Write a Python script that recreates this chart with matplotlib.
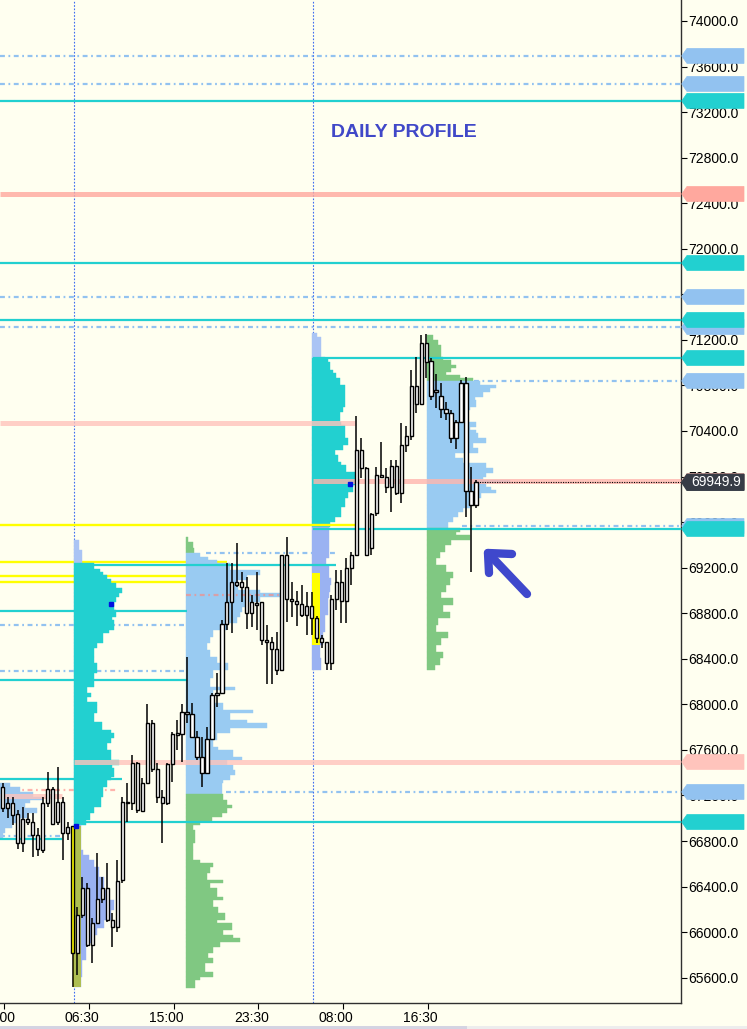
import numpy as np
import matplotlib
matplotlib.use("Agg")
import matplotlib.pyplot as plt
from matplotlib import transforms
from matplotlib.patches import Polygon, Rectangle
from matplotlib.ticker import FormatStrFormatter

plt.rcParams["font.family"] = ["Liberation Sans", "DejaVu Sans"]

BG = "#FFFFF0"
TEAL = "#22D0D0"
SKY = "#99CBF2"
GREEN = "#80C882"
LAV_UP = "#AAC4F4"
LAV_DN = "#9AB2F2"
LB = "#92C2F0"
SALMON = "#FFA89E"
PINK = "#FFC4BC"
YELLOW = "#FFFF00"

# hours are counted from the 05:00 session start of the first full day
XMIN, XMAX = -7.43, 60.94
YMIN, YMAX = 65378, 74184
PX_PER_HOUR = 9.96
PRICE_PER_PX = 8.777

tick_hours = [-7, 1.5, 10, 18.5, 27, 35.5]
tick_labels = ["22:00", "06:30", "15:00", "23:30", "08:00", "16:30"]
session_starts = [0, 24]

# ---- 30 minute candles ----
first_bar = -7.15
bar_step = 0.5
body_hi = [67277, 67131, 67131, 67037, 66991, 66991, 66970, 66853, 67131, 67254,
           67254, 67146, 67146, 66926, 66932, 66151, 66385, 66385, 66083, 66288,
           66385, 66385, 66107, 66449, 67146, 67146, 67488, 67488, 67313, 67834,
           67834, 67430, 67190, 67474, 67737, 67745, 67936, 67936, 67913, 67716,
           67535, 67693, 68082, 68098, 68703, 68902, 69077, 69077, 69077, 69028,
           68902, 68888, 68902, 68565, 68545, 68483, 69312, 69312, 68922, 68908,
           68878, 68864, 68864, 68761, 68580, 68545, 68922, 69077, 69077, 69200,
           69311, 70233, 70233, 70072, 69671, 70014, 70014, 69994, 70092, 70092,
           70277, 70356, 70795, 70795, 71175, 71175, 71015, 70760, 70710, 70593,
           70555, 70476, 70819, 70819, 69873, 69949.9]
body_lo = [67087, 67087, 67029, 66786, 66786, 66970, 66853, 66727, 66721, 67131,
           66950, 66970, 66868, 66868, 65820, 65820, 66151, 65887, 65887, 66083,
           66288, 66107, 66042, 66042, 66458, 67131, 67131, 67073, 67067, 67313,
           67430, 67190, 67131, 67131, 67474, 67730, 67737, 67913, 67716, 67535,
           67394, 67394, 67693, 68082, 68098, 68703, 68902, 69048, 69028, 68800,
           68800, 68873, 68565, 68545, 68483, 68302, 68302, 68922, 68908, 68878,
           68785, 68785, 68762, 68580, 68545, 68360, 68360, 68922, 68907, 68907,
           69200, 69311, 70072, 69311, 69372, 69682, 69994, 69906, 69906, 69853,
           69853, 70277, 70356, 70634, 70634, 71009, 70710, 70745, 70593, 70555,
           70336, 70336, 70476, 69873, 69750, 69750]
high = [67307, 67190, 67190, 67073, 67102, 67043, 67043, 66912, 67190, 67409,
        67277, 67453, 67190, 66970, 66932, 66224, 66487, 66429, 66122, 66692,
        66487, 66604, 66165, 66634, 67190, 67307, 67556, 67497, 67351, 68000,
        67863, 67482, 67248, 67482, 67760, 67863, 68000, 68419, 68015, 67769,
        67716, 67798, 68098, 68279, 68741, 69239, 69239, 69420, 69165, 69121,
        68960, 69165, 68902, 68697, 68595, 68639, 69312, 69467, 69077, 68996,
        69048, 68990, 68990, 68779, 68609, 68545, 68960, 69180, 69180, 69282,
        69340, 70530, 70339, 70080, 69680, 70087, 70306, 70072, 70145, 70145,
        70473, 70444, 70936, 71053, 71243, 71252, 71038, 70900, 70819, 70652,
        70584, 70497, 70848, 70877, 70087, 69970]
low = [67058, 66999, 66941, 66727, 66707, 66941, 66663, 66669, 66698, 67102,
       66941, 66941, 66634, 66809, 65521, 65624, 66122, 65873, 65726, 66078,
       66253, 66092, 65873, 66004, 66429, 66970, 67073, 67043, 67058, 67307,
       67409, 67131, 66786, 67116, 67321, 67600, 67497, 67834, 67716, 67511,
       67277, 67394, 67687, 67980, 68091, 68653, 68624, 69034, 68902, 68659,
       68682, 68653, 68521, 68176, 68176, 68258, 68296, 68726, 68770, 68688,
       68770, 68609, 68609, 68536, 68492, 68302, 68302, 68829, 68712, 68712,
       69048, 69300, 69988, 69300, 69311, 69650, 69985, 69853, 69691, 69838,
       69765, 70219, 70321, 70556, 70628, 70863, 70672, 70600, 70511, 70497,
       70292, 70242, 70467, 69647, 69165, 69726]
last_price = 69949.9
yellow_bar = 14

# ---- volume profiles: price bin edges (top to bottom) and bar lengths ----
profZ_start = XMIN
profZ_edges = [67310, 67274, 67230, 67187, 67160, 67134, 67090, 67046, 67002, 66958, 66915, 66871, 66827]
profZ_vol = [10, 20, 33, 43, 30, 25, 37, 27, 20, 12, 5, 3]

profA_start = 0.0
profA_va = (69238, 66941)
profA_edges = [69443, 69355, 69238, 69186, 69165, 69136, 69098, 69063, 69019, 68975,
               68946, 68902, 68829, 68770, 68741, 68653, 68624, 68536, 68492, 68419,
               68360, 68272, 68155, 68097, 68068, 68024, 67994, 67921, 67848, 67775,
               67746, 67702, 67658, 67599, 67511, 67468, 67438, 67365, 67336, 67277,
               67189, 67102, 67043, 66985, 66941, 66721, 66677, 66633, 66575, 66487,
               66370, 66282, 66194, 66107, 66033, 65975, 65902, 65755, 65609, 65521]
profA_vol = [5, 8, 20, 26, 29, 33, 37, 42, 48, 45, 42, 40, 42, 38, 40, 35, 29, 23, 20, 20,
             23, 20, 13, 17, 13, 23, 23, 20, 28, 37, 40, 37, 33, 37, 45, 38, 40, 37, 33, 29,
             27, 20, 16, 12, 7, 9, 15, 20, 25, 30, 35, 40, 37, 30, 23, 17, 12, 8, 7]

profB_start = 11.25
profB_va = (69326, 67213)
profB_edges = [69472, 69429, 69370, 69326, 69297, 69268, 69238, 69180, 69136, 69092,
               69048, 69004, 68975, 68946, 68902, 68858, 68814, 68770, 68711, 68653,
               68594, 68536, 68477, 68419, 68360, 68302, 68229, 68155, 68126, 68068,
               68009, 67950, 67927, 67863, 67833, 67789, 67746, 67687, 67629, 67599,
               67541, 67511, 67468, 67424, 67380, 67336, 67307, 67213, 67160, 67116,
               67087, 67043, 67014, 66970, 66941, 66897, 66780, 66721, 66633, 66604,
               66575, 66516, 66458, 66428, 66385, 66311, 66282, 66224, 66165, 66107,
               66077, 66019, 65975, 65946, 65916, 65872, 65814, 65770, 65726, 65653,
               65609, 65580, 65506]
profB_vol = [2, 7, 8, 14, 22, 31, 44, 74, 61, 51, 52, 74, 94, 74, 61, 56, 54, 51, 41, 27,
             24, 21, 24, 31, 42, 27, 24, 49, 27, 24, 37, 67, 44, 61, 81, 44, 31, 27, 32, 47,
             56, 41, 47, 49, 44, 37, 36, 37, 41, 46, 41, 36, 26, 14, 7, 9, 7, 7, 14, 27,
             24, 21, 37, 24, 31, 37, 27, 32, 39, 31, 46, 37, 47, 54, 34, 27, 22, 27, 19, 27,
             14, 9]

profC_start = 23.93
profC_va = (71038, 69560)
profC_edges = [71258, 71229, 71053, 71038, 71009, 70936, 70907, 70863, 70804, 70614,
               70570, 70482, 70453, 70336, 70277, 70233, 70190, 70131, 70102, 70043,
               69985, 69926, 69868, 69809, 69736, 69648, 69604, 69560, 69282, 69224,
               69107, 69048, 68990, 68931, 68785, 68638, 68521, 68404, 68302]
profC_vol = [5, 9, 13, 16, 18, 21, 24, 28, 33, 31, 28, 29, 33, 36, 31, 23, 26, 29, 34, 44,
             46, 41, 36, 33, 29, 23, 18, 17, 14, 17, 19, 18, 17, 16, 13, 11, 8, 9]

profD_start = 35.47
profD_va = (70839, 69546)
profD_edges = [71243, 71199, 71155, 71053, 71024, 70980, 70950, 70921, 70892, 70863,
               70839, 70804, 70775, 70746, 70702, 70672, 70614, 70585, 70482, 70438,
               70409, 70380, 70336, 70292, 70248, 70204, 70160, 70116, 70072, 70028,
               69999, 69970, 69941, 69911, 69882, 69853, 69809, 69750, 69721, 69692,
               69648, 69604, 69546, 69516, 69487, 69443, 69399, 69341, 69282, 69224,
               69165, 69107, 69048, 68990, 68931, 68872, 68814, 68755, 68697, 68638,
               68580, 68521, 68463, 68404, 68346, 68302]
profD_vol = [6, 11, 14, 16, 24, 29, 24, 19, 33, 46, 53, 69, 63, 56, 48, 49, 43, 39, 49, 43,
             49, 51, 59, 46, 51, 28, 36, 59, 66, 59, 56, 83, 59, 64, 69, 54, 49, 43, 36, 31,
             26, 21, 33, 29, 43, 24, 18, 13, 9, 19, 26, 23, 19, 14, 26, 16, 23, 11, 9, 21,
             14, 9, 16, 13, 8]

# opening range boxes (one per session)
ib_hi = [66932, 69155]
ib_lo = [65518, 68522]

poc_time = [0.2, 3.75, 27.7]
poc_price = [66928, 68880, 69938]

# ---- horizontal levels: price, start hour, end hour (None = chart edge) ----
cyan_price = [73298, 71875, 71375, 71041, 69540, 69224, 68823, 68214, 67345, 66967, 66818]
cyan_from = [None, None, None, 24.0, 24.0, 0.0, None, None, None, 0.0, None]
cyan_to = [None, None, None, None, None, 26.3, 11.35, 11.35, 4.8, None, -1.2]

dot_price = [73693, 73447, 71577, 71313, 70840, 69566, 69329, 68697, 68290, 67231, 66840]
dot_from = [None, None, None, None, 40.2, 39.0, 13.3, None, None, 15.3, None]
dot_to = [None, None, None, None, None, None, 26.5, 11.35, 11.35, None, -1.2]

pink_price = [72481, 70470, 69960, 67494, 67195]
pink_from = [None, None, 24.0, 0.0, None]
pink_to = [None, 28.2, None, None, -1.2]
pink_color = [SALMON, PINK, "#FFB6AE", PINK, PINK]

pinkdot_price = [68960, 67250]
pinkdot_from = [11.25, None]
pinkdot_to = [20.7, 4.4]

yellow_price = [69575, 69246, 69127, 69070]
yellow_to = [28.2, 15.4, 11.35, 11.35]

tag_price = [73693, 73447, 73298, 72481, 71875, 71577, 71313, 71375, 71041, 70840,
             69960, 69566, 69540, 67494, 67231, 66967]
tag_color = [LB, LB, TEAL, SALMON, TEAL, LB, LB, TEAL, TEAL, LB,
             "#FFB0A6", LB, TEAL, PINK, LB, TEAL]


def span(a, b):
    return (XMIN if a is None else a), (XMAX if b is None else b)


def draw_profile(ax, x0, edges, vol, va, c_in, c_up, c_dn):
    edges = np.asarray(edges, float)
    vol = np.asarray(vol, float)
    tops, bots = edges[:-1], edges[1:]
    mids = (tops + bots) / 2
    cols = np.where(mids > va[0], c_up, np.where(mids < va[1], c_dn, c_in))
    ax.barh(mids, vol / PX_PER_HOUR, height=tops - bots, left=x0, color=cols,
            edgecolor=cols, linewidth=0.3, align="center", zorder=2)


def main() -> None:
    fig = plt.figure(figsize=(7.47, 10.29), dpi=100, facecolor=BG)
    ax = fig.add_axes([0, 26 / 1029, 681 / 747, 1003 / 1029])
    ax.set_facecolor(BG)
    ax.set_xlim(XMIN, XMAX)
    ax.set_ylim(YMIN, YMAX)

    # dotted levels sit under the profiles
    for p, a, b in zip(dot_price, dot_from, dot_to):
        x0, x1 = span(a, b)
        ax.hlines(p, x0, x1, color=LB, lw=1.6, linestyles=[(0, (2.2, 1.6, 0.8, 1.6))], zorder=1)
    for p, a, b in zip(pinkdot_price[1:], pinkdot_from[1:], pinkdot_to[1:]):
        x0, x1 = span(a, b)
        ax.hlines(p, x0, x1, color="#FFB4AC", lw=1.6, linestyles=[(0, (2.2, 1.6, 0.8, 1.6))], zorder=1)
    for p, b in zip(yellow_price[1:], yellow_to[1:]):
        ax.hlines(p, XMIN, b, color=YELLOW, lw=1.7, zorder=1)

    for t in session_starts:
        ax.axvline(t, color="#3C6CF0", lw=0.8, linestyle=(0, (1.5, 1.5)), zorder=1.2)

    # profiles
    draw_profile(ax, profZ_start, profZ_edges, profZ_vol, (1e9, 0), "#9CC8F0", "#9CC8F0", "#9CC8F0")
    draw_profile(ax, profA_start, profA_edges, profA_vol, profA_va, TEAL, LAV_UP, LAV_DN)
    draw_profile(ax, profB_start, profB_edges, profB_vol, profB_va, SKY, GREEN, GREEN)
    draw_profile(ax, profC_start, profC_edges, profC_vol, profC_va, TEAL, LAV_UP, LAV_DN)
    draw_profile(ax, profD_start, profD_edges, profD_vol, profD_va, SKY, GREEN, GREEN)

    # opening range boxes
    for t, hi, lo, olive in zip(session_starts, ib_hi, ib_lo, [True, False]):
        ax.add_patch(Rectangle((t - 0.13, lo), 0.83, hi - lo, facecolor=YELLOW, edgecolor="none", zorder=3))
        if olive:
            ax.add_patch(Rectangle((t + 0.03, lo), 0.67, hi - lo, facecolor="#AEBE52", edgecolor="none", zorder=3.1))

    # solid levels over the profiles
    for p, a, b in zip(cyan_price, cyan_from, cyan_to):
        x0, x1 = span(a, b)
        ax.hlines(p, x0, x1, color=TEAL, lw=1.6, zorder=3.5)
    for p, a, b, c in zip(pink_price, pink_from, pink_to, pink_color):
        x0, x1 = span(a, b)
        ax.hlines(p, x0, x1, color=c, lw=3.6, alpha=0.8, zorder=3.6)
    ax.hlines(pinkdot_price[0], pinkdot_from[0], pinkdot_to[0], color="#D8A0A8",
              lw=1.6, linestyles=[(0, (2.2, 1.6, 0.8, 1.6))], zorder=3.6)
    ax.hlines(yellow_price[0], XMIN, yellow_to[0], color=YELLOW, lw=1.7, zorder=3.7)

    # candles
    n = len(high)
    t = first_bar + bar_step * np.arange(n)
    faces = ["white"] * n
    faces[yellow_bar] = YELLOW
    ax.vlines(t, low, high, color="black", lw=1.1, zorder=5)
    bh = np.asarray(body_hi) - np.asarray(body_lo)
    ax.bar(t, np.maximum(bh, 6), bottom=body_lo, width=0.32, color=faces,
           edgecolor="black", linewidth=1.0, zorder=5.5)

    ax.plot(poc_time, poc_price, "s", color="#0010E0", ms=3.2, zorder=6)

    # last price
    ax.hlines(last_price, t[-1] + 0.15, XMAX, color="black", lw=0.8,
              linestyles=[(0, (1, 1.2))], zorder=6)

    # axes cosmetics
    for s in ("top", "left"):
        ax.spines[s].set_visible(False)
    for s in ("right", "bottom"):
        ax.spines[s].set_color("#303030")
        ax.spines[s].set_linewidth(1.0)
    ax.yaxis.tick_right()
    ax.set_yticks(np.arange(65600, 74001, 400))
    ax.yaxis.set_major_formatter(FormatStrFormatter("%.1f"))
    ax.tick_params(axis="y", direction="out", length=4, width=0.8, pad=1, labelsize=10)
    ax.set_xticks(tick_hours)
    ax.set_xticklabels(tick_labels)
    ax.tick_params(axis="x", direction="out", length=4, width=0.8, pad=2, labelsize=10)
    shift = transforms.ScaledTranslation(-0.07, 0, fig.dpi_scale_trans)
    for lbl in ax.get_xticklabels():
        lbl.set_transform(lbl.get_transform() + shift)

    # price tags on the scale
    tf = transforms.blended_transform_factory(ax.transAxes, ax.transData)
    w = 681.0
    half = 7.5 * PRICE_PER_PX
    xs = [1 + 0.7 / w, 1 + 6 / w, 1 + 63 / w, 1 + 63 / w, 1 + 6 / w]
    for p, c in zip(tag_price, tag_color):
        ys = [p, p + half, p + half, p - half, p - half]
        ax.add_patch(Polygon(np.column_stack([xs, ys]), closed=True, transform=tf,
                             facecolor=c, edgecolor=c, lw=0.5, clip_on=False, zorder=10))
    h2 = 8 * PRICE_PER_PX
    ys = [last_price, last_price + h2, last_price + h2, last_price - h2, last_price - h2]
    ax.add_patch(Polygon(np.column_stack([xs, ys]), closed=True, transform=tf,
                         facecolor="#373C46", edgecolor="#373C46", clip_on=False, zorder=11))
    ax.text(1 + 35 / w, last_price, f"{last_price:.1f}", transform=tf, ha="center", va="center",
            color="white", fontsize=10, zorder=12, clip_on=False)

    ax.text(0.593, 0.868, "DAILY PROFILE", transform=ax.transAxes, ha="center", va="center",
            fontsize=14, fontweight="bold", color="#4048C8", zorder=7)

    # hand drawn arrow
    def ap(px, py):
        return px / w, 1 - py / 1003.0
    tail, tip, arm1, arm2 = ap(527, 594), ap(488, 553), ap(512, 554), ap(489, 573)
    kw = dict(transform=ax.transAxes, color="#3F48CC", lw=6, solid_capstyle="round",
              solid_joinstyle="round", zorder=8, clip_on=False)
    ax.plot([tail[0], tip[0]], [tail[1], tip[1]], **kw)
    ax.plot([arm1[0], tip[0], arm2[0]], [arm1[1], tip[1], arm2[1]], **kw)

    # scrollbar strip at the bottom
    fig.patches.append(Rectangle((0, 0), 467 / 747, 3 / 1029, transform=fig.transFigure,
                                 facecolor="#D4D4E2", edgecolor="none"))
    fig.patches.append(Rectangle((467 / 747, 0), 280 / 747, 3 / 1029, transform=fig.transFigure,
                                 facecolor="#EDEDED", edgecolor="none"))

    fig.savefig("out.png", dpi=100, facecolor=BG)


if __name__ == "__main__":
    main()
